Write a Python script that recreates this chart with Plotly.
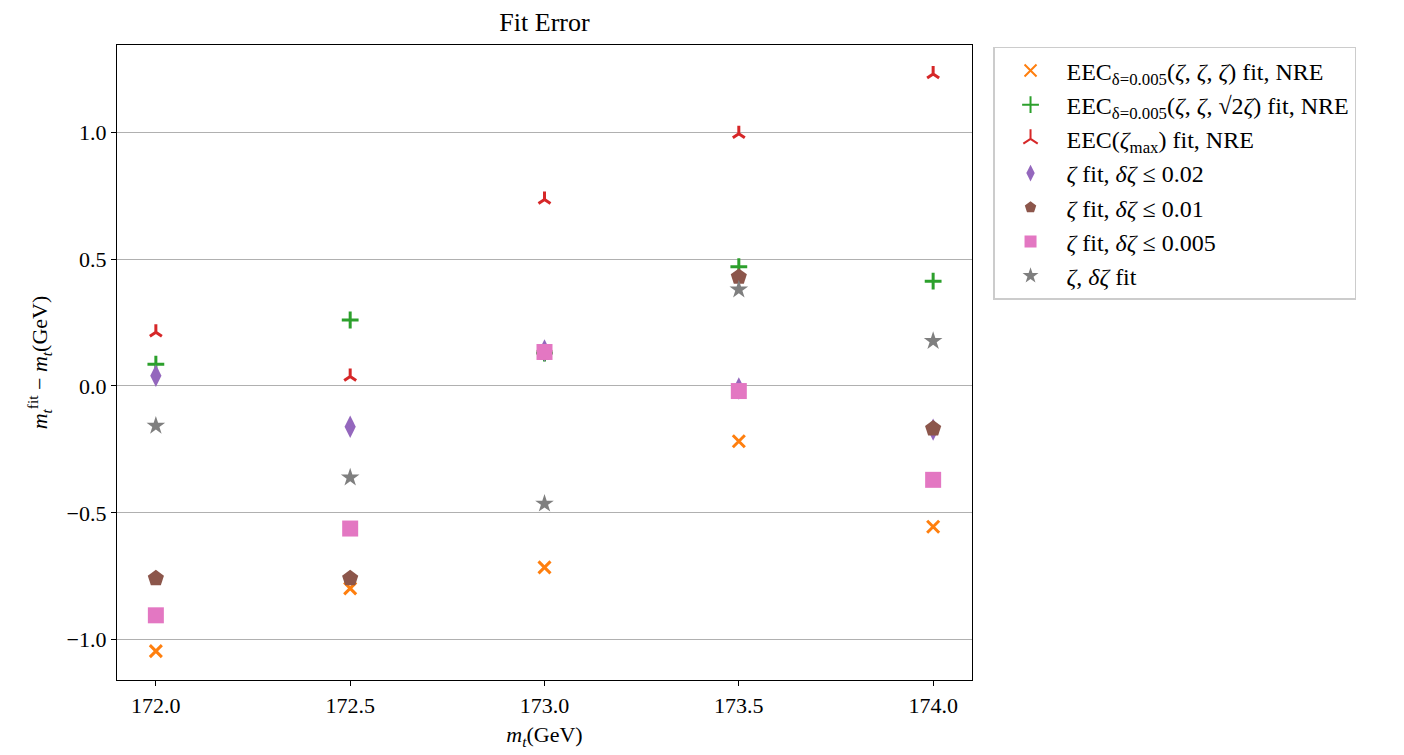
import plotly.graph_objects as go

mt = [172.0, 172.5, 173.0, 173.5, 174.0]

eec_equi = [-1.045, -0.798, -0.715, -0.218, -0.555]
eec_sqrt2 = [0.086, 0.260, 0.130, 0.470, 0.413]
eec_max = [0.212, 0.037, 0.735, 0.994, 1.230]
zeta_002 = [0.040, -0.161, 0.140, -0.010, -0.172]
zeta_001 = [-0.758, -0.758, 0.130, 0.430, -0.168]
zeta_0005 = [-0.904, -0.562, 0.134, -0.020, -0.370]
zeta_dzeta = [-0.157, -0.361, -0.464, 0.380, 0.177]

names = [
    "EEC<sub>δ=0.005</sub>(<i>ζ</i>, <i>ζ</i>, <i>ζ</i>) fit, NRE",
    "EEC<sub>δ=0.005</sub>(<i>ζ</i>, <i>ζ</i>, √2<i>ζ</i>) fit, NRE",
    "EEC(<i>ζ</i><sub>max</sub>) fit, NRE",
    "<i>ζ</i> fit, <i>δζ</i> ≤ 0.02",
    "<i>ζ</i> fit, <i>δζ</i> ≤ 0.01",
    "<i>ζ</i> fit, <i>δζ</i> ≤ 0.005",
    "<i>ζ</i>, <i>δζ</i> fit",
]
series = [eec_equi, eec_sqrt2, eec_max, zeta_002, zeta_001, zeta_0005, zeta_dzeta]
colors = ["#ff7f0e", "#2ca02c", "#d62728", "#9467bd", "#8c564b", "#e377c2", "#7f7f7f"]
symbols = ["x-thin", "cross-thin", "y-up", "diamond-tall", "pentagon", "square", "star"]
sizes = [12, 12, 10, 16, 17, 16, 14]

fig = go.Figure()
for i, (nm, ys, c, s, sz) in enumerate(zip(names, series, colors, symbols, sizes)):
    line_only = s in ("x-thin", "cross-thin", "y-up")
    fig.add_trace(go.Scatter(
        x=mt, y=ys, mode="markers", name=nm, legendgroup=f"g{i}",
        marker=dict(
            symbol=s, size=sz, color=c,
            line=dict(color=c, width=3 if line_only else 0),
        ),
    ))

font_family = "Liberation Serif, DejaVu Serif, serif"
fig.update_layout(
    width=1404, height=755,
    margin=dict(l=117, r=432, t=45, b=73),
    paper_bgcolor="white", plot_bgcolor="white",
    font=dict(family=font_family, size=22, color="black"),
    title=dict(text="Fit Error", x=(117 + 972) / 2 / 1404, xanchor="center",
               y=1 - 22 / 755, yanchor="middle", font=dict(size=26)),
    showlegend=True,
    legend=dict(
        x=1.0246, y=0.997, xanchor="left", yanchor="top",
        bordercolor="#cccccc", borderwidth=1.5, bgcolor="white",
        font=dict(size=24), itemsizing="constant", itemwidth=62, tracegroupgap=0,
    ),
)
fig.update_xaxes(
    range=[171.9, 174.1], tickvals=mt, ticktext=[f"{v:.1f}" for v in mt],
    showgrid=False, zeroline=False,
    showline=True, linecolor="black", linewidth=1.3, mirror=True,
    ticks="outside", ticklen=5, tickcolor="black", tickfont=dict(size=22),
    title=dict(text="<i>m</i><sub><i>t</i></sub>(GeV)", font=dict(size=22), standoff=10),
)
fig.update_yaxes(
    range=[-1.159, 1.344], tickvals=[-1.0, -0.5, 0.0, 0.5, 1.0],
    ticktext=["−1.0", "−0.5", "0.0", "0.5", "1.0"],
    showgrid=True, gridcolor="#b0b0b0", gridwidth=1.3, zeroline=False,
    showline=True, linecolor="black", linewidth=1.3, mirror=True,
    ticks="outside", ticklen=5, tickcolor="black", tickfont=dict(size=22),
    title=dict(text="<i>m</i><sub><i>t</i></sub><sup>fit</sup> − <i>m</i><sub><i>t</i></sub>(GeV)",
               font=dict(size=22), standoff=12),
)

fig.write_html("out.html")
